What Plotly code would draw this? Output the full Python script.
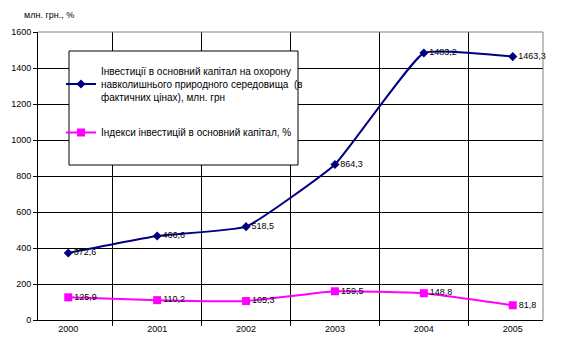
import plotly.graph_objects as go

years = ["2000", "2001", "2002", "2003", "2004", "2005"]
invest = [372.6, 466.6, 518.5, 864.3, 1483.2, 1463.3]
index_vals = [125.9, 110.2, 105.3, 159.5, 148.8, 81.8]
invest_labels = ["372,6", "466,6", "518,5", "864,3", "1483,2", "1463,3"]
index_labels = ["125,9", "110,2", "105,3", "159,5", "148,8", "81,8"]

name1 = "Інвестиції в основний капітал на охорону<br>навколишнього природного середовища  (в<br>фактичних цінах), млн. грн"
name2 = "Індекси інвестицій в основний капітал, %"

FONT = "Liberation Sans, Arial, sans-serif"

fig = go.Figure()
fig.add_trace(go.Scatter(
    x=years, y=invest, name=name1, mode="lines+markers+text", legendgroup="a",
    line=dict(color="#000080", width=2, shape="spline", smoothing=0.35),
    marker=dict(symbol="diamond", size=7, color="#000080"),
    text=invest_labels, textposition="middle right",
    textfont=dict(size=9, color="#000000", family=FONT),
    cliponaxis=False,
))
fig.add_trace(go.Scatter(
    x=years, y=index_vals, name=name2, mode="lines+markers+text", legendgroup="b",
    line=dict(color="#FF00FF", width=2, shape="spline", smoothing=0.35),
    marker=dict(symbol="square", size=8, color="#FF00FF"),
    text=index_labels, textposition="middle right",
    textfont=dict(size=9, color="#000000", family=FONT),
    cliponaxis=False,
))

fig.add_shape(type="rect", xref="paper", yref="paper",
              x0=(69 - 38) / 505, x1=(298 - 38) / 505,
              y0=(320 - 165) / 288, y1=(320 - 51) / 288,
              line=dict(color="black", width=1), fillcolor="white", layer="above")

fig.add_annotation(text="млн. грн., %", xref="paper", yref="paper",
                   x=(22 - 38) / 505, y=(320 - 15) / 288, xanchor="left", yanchor="middle",
                   showarrow=False, font=dict(size=9, family=FONT, color="black"))

fig.update_layout(
    width=565, height=349,
    margin=dict(l=38, r=22, t=32, b=29),
    paper_bgcolor="white", plot_bgcolor="white",
    font=dict(family=FONT, size=9, color="black"),
    showlegend=True,
    legend=dict(x=(61 - 38) / 505, y=(320 - 58) / 288, xanchor="left", yanchor="top",
                bgcolor="rgba(0,0,0,0)", borderwidth=0, tracegroupgap=18,
                font=dict(size=10, family=FONT, color="black"), itemwidth=30),
    xaxis=dict(type="category", tickson="boundaries", showgrid=True, gridcolor="black",
               gridwidth=1, ticks="outside", ticklen=5, tickcolor="black",
               showline=True, linecolor="black", mirror=False, tickfont=dict(size=9)),
    yaxis=dict(range=[0, 1600], dtick=200, showgrid=True, gridcolor="black", gridwidth=1,
               ticks="outside", ticklen=4, tickcolor="black", showline=True, linecolor="black",
               zeroline=False, tickfont=dict(size=9)),
)
fig.add_shape(type="line", xref="paper", yref="paper", x0=0, x1=1, y0=1, y1=1,
              line=dict(color="gray", width=1))
fig.add_shape(type="line", xref="paper", yref="paper", x0=1, x1=1, y0=0, y1=1,
              line=dict(color="gray", width=1))

fig.write_html("out.html")
